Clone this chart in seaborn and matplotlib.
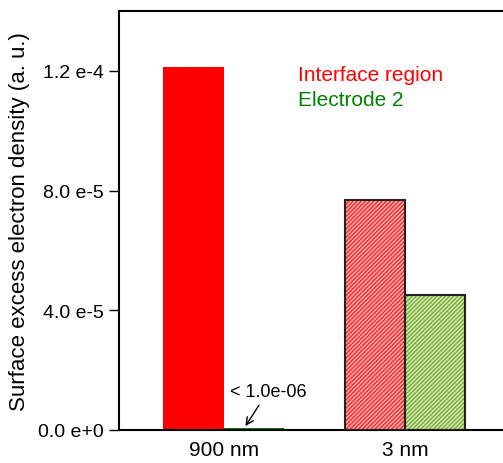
import matplotlib
matplotlib.use("Agg")
import matplotlib.pyplot as plt
import matplotlib.patches as mpatches
import pandas as pd
import seaborn as sns

# Data
sizes = ["900 nm", "3 nm"]
regions = ["Interface region", "Electrode 2"]
interface_vals = [1.213e-4, 7.67e-5]
electrode_vals = [8e-7, 4.5e-5]
ytick_vals = [0, 4e-5, 8e-5, 1.2e-4]
ytick_labels = ["0.0 e+0", "4.0 e-5", "8.0 e-5", "1.2 e-4"]
note_text = "< 1.0e-06"

df = pd.DataFrame({
    "size": sizes * 2,
    "region": [regions[0]] * 2 + [regions[1]] * 2,
    "value": interface_vals + electrode_vals,
})

sns.set_style("white")
plt.rcParams["font.family"] = ["Liberation Sans", "DejaVu Sans"]
plt.rcParams["hatch.linewidth"] = 1.0
plt.rcParams["text.color"] = "black"
plt.rcParams["axes.labelcolor"] = "black"
plt.rcParams["xtick.color"] = "black"
plt.rcParams["ytick.color"] = "black"

fig = plt.figure(figsize=(5.03, 4.64), dpi=100)
ax = fig.add_axes([119 / 503, 33 / 464, 1.05 - 119 / 503, 419 / 464])

sns.barplot(data=df, x="size", y="value", hue="region", order=sizes,
            hue_order=regions, palette=["#ff0000", "#008000"],
            width=2 / 3, gap=0, legend=False, ax=ax)

# solid bars for 900 nm, hatched + outlined bars for 3 nm
solid = ["#ff0000", "#008000"]
hatch_face = ["#ffb4b4", "#d2ebb0"]
hatch_col = ["#ff2020", "#7aa83a"]
for i, cont in enumerate(ax.containers):
    for j, bar in enumerate(cont):
        if j == 0:
            bar.set_facecolor(solid[i])
            bar.set_edgecolor(solid[i])
            bar.set_linewidth(0)
        else:
            bar.set_facecolor(hatch_face[i])
            bar.set_edgecolor(hatch_col[i])
            bar.set_hatch("////////")
            bar.set_linewidth(0)
            outline = mpatches.Rectangle((bar.get_x(), bar.get_y()), bar.get_width(),
                                         bar.get_height(), fill=False,
                                         edgecolor="#222222", linewidth=1.5, zorder=3)
            ax.add_patch(outline)

ax.set_xlim(-0.578, 1.68)
ax.set_ylim(0, 1.4e-4)
ax.set_yticks(ytick_vals)
ax.set_yticklabels(ytick_labels)
ax.tick_params(axis="y", direction="out", length=7, width=1, labelsize=14, pad=4, left=True)
ax.tick_params(axis="x", length=0, labelsize=15, pad=7)
ax.set_xlabel("")
ax.set_ylabel("Surface excess electron density (a. u.)", fontsize=16, labelpad=6)
for s in ["left", "bottom", "top"]:
    ax.spines[s].set_color("black")
    ax.spines[s].set_linewidth(1.5)
ax.spines["right"].set_visible(False)

ax.annotate(note_text, xy=(0.12, 1.3e-6), xytext=(0.245, 1.3e-5),
            ha="center", va="center", fontsize=13,
            arrowprops=dict(arrowstyle="->", color="black", lw=1,
                            shrinkA=2, shrinkB=0))

fig.text(298 / 503, 1 - 76 / 464, regions[0], color="#ff0000", fontsize=15, va="center")
fig.text(298 / 503, 1 - 101 / 464, regions[1], color="#008000", fontsize=15, va="center")

fig.savefig("out.png", dpi=100)
